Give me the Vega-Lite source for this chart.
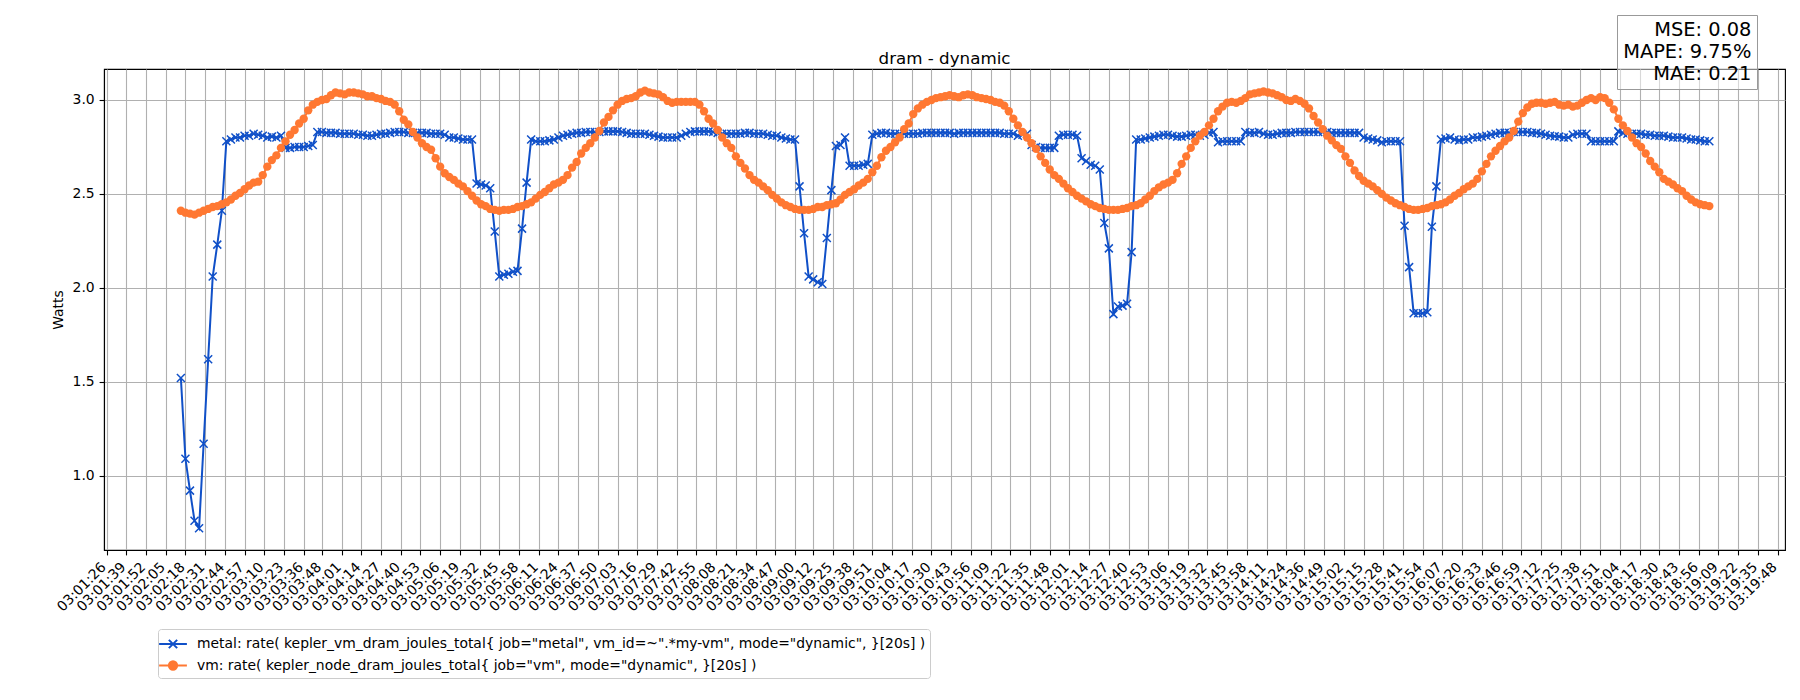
{
"$schema": "https://vega.github.io/schema/vega-lite/v6.json",
"width": 1681, "height": 481,
"autosize": "none",
"padding": {"left": 104, "top": 69, "right": 15, "bottom": 150},
"background": "white",
"title": {"text": "dram - dynamic", "font": "DejaVu Sans", "fontSize": 16.7, "fontWeight": "normal", "color": "black", "anchor": "middle", "offset": 5, "dy": 58},
"config": {"view": {"stroke": "black", "strokeWidth": 1.1}},
"data": {"values": [
{"t":135,"m":1.52,"v":2.41},{"t":138,"m":1.09,"v":2.40},{"t":141,"m":0.92,"v":2.395},{"t":144,"m":0.76,"v":2.39},{"t":147,"m":0.72,"v":2.40},
{"t":150,"m":1.17,"v":2.41},{"t":153,"m":1.62,"v":2.42},{"t":156,"m":2.06,"v":2.43},{"t":159,"m":2.23,"v":2.435},{"t":162,"m":2.41,"v":2.445},
{"t":165,"m":2.78,"v":2.455},{"t":168,"m":2.79,"v":2.47},{"t":171,"m":2.80,"v":2.49},{"t":174,"m":2.80,"v":2.505},{"t":177,"m":2.81,"v":2.525},
{"t":180,"m":2.81,"v":2.545},{"t":183,"m":2.82,"v":2.56},{"t":186,"m":2.815,"v":2.565},{"t":189,"m":2.81,"v":2.60},{"t":192,"m":2.80,"v":2.645},
{"t":195,"m":2.805,"v":2.68},{"t":198,"m":2.80,"v":2.705},{"t":201,"m":2.81,"v":2.745},{"t":204,"m":2.745,"v":2.78},{"t":207,"m":2.745,"v":2.815},
{"t":210,"m":2.75,"v":2.84},{"t":213,"m":2.75,"v":2.875},{"t":216,"m":2.75,"v":2.90},{"t":219,"m":2.755,"v":2.945},{"t":222,"m":2.76,"v":2.975},
{"t":225,"m":2.83,"v":2.99},{"t":228,"m":2.83,"v":3.00},{"t":231,"m":2.825,"v":3.005},{"t":234,"m":2.825,"v":3.025},{"t":237,"m":2.825,"v":3.04},
{"t":240,"m":2.82,"v":3.035},{"t":243,"m":2.82,"v":3.03},{"t":246,"m":2.82,"v":3.04},{"t":249,"m":2.82,"v":3.04},{"t":252,"m":2.815,"v":3.035},
{"t":255,"m":2.815,"v":3.03},{"t":258,"m":2.81,"v":3.02},{"t":261,"m":2.81,"v":3.02},{"t":264,"m":2.815,"v":3.01},{"t":267,"m":2.82,"v":3.005},
{"t":270,"m":2.82,"v":2.995},{"t":273,"m":2.825,"v":2.99},{"t":276,"m":2.83,"v":2.975},{"t":279,"m":2.83,"v":2.94},{"t":282,"m":2.83,"v":2.895},
{"t":285,"m":2.825,"v":2.87},{"t":288,"m":2.825,"v":2.83},{"t":291,"m":2.825,"v":2.80},{"t":294,"m":2.825,"v":2.77},{"t":297,"m":2.825,"v":2.75},
{"t":300,"m":2.82,"v":2.735},{"t":303,"m":2.82,"v":2.69},{"t":306,"m":2.82,"v":2.645},{"t":309,"m":2.815,"v":2.61},{"t":312,"m":2.80,"v":2.59},
{"t":315,"m":2.80,"v":2.575},{"t":318,"m":2.795,"v":2.555},{"t":321,"m":2.79,"v":2.54},{"t":324,"m":2.79,"v":2.515},{"t":327,"m":2.79,"v":2.49},
{"t":330,"m":2.555,"v":2.465},{"t":333,"m":2.55,"v":2.445},{"t":336,"m":2.545,"v":2.435},{"t":339,"m":2.53,"v":2.42},{"t":342,"m":2.30,"v":2.415},
{"t":345,"m":2.06,"v":2.41},{"t":348,"m":2.07,"v":2.415},{"t":351,"m":2.075,"v":2.415},{"t":354,"m":2.085,"v":2.42},{"t":357,"m":2.09,"v":2.43},
{"t":360,"m":2.315,"v":2.435},{"t":363,"m":2.56,"v":2.445},{"t":366,"m":2.79,"v":2.455},{"t":369,"m":2.78,"v":2.475},{"t":372,"m":2.78,"v":2.495},
{"t":375,"m":2.78,"v":2.51},{"t":378,"m":2.785,"v":2.53},{"t":381,"m":2.79,"v":2.55},{"t":384,"m":2.80,"v":2.56},{"t":387,"m":2.81,"v":2.575},
{"t":390,"m":2.815,"v":2.60},{"t":393,"m":2.82,"v":2.64},{"t":396,"m":2.825,"v":2.67},{"t":399,"m":2.825,"v":2.715},{"t":402,"m":2.83,"v":2.745},
{"t":405,"m":2.83,"v":2.77},{"t":408,"m":2.83,"v":2.80},{"t":411,"m":2.83,"v":2.835},{"t":414,"m":2.833,"v":2.88},{"t":417,"m":2.833,"v":2.91},
{"t":420,"m":2.833,"v":2.945},{"t":423,"m":2.833,"v":2.975},{"t":426,"m":2.83,"v":2.995},{"t":429,"m":2.825,"v":3.005},{"t":432,"m":2.82,"v":3.01},
{"t":435,"m":2.82,"v":3.02},{"t":438,"m":2.82,"v":3.04},{"t":441,"m":2.82,"v":3.05},{"t":444,"m":2.815,"v":3.04},{"t":447,"m":2.81,"v":3.035},
{"t":450,"m":2.805,"v":3.03},{"t":453,"m":2.80,"v":3.015},{"t":456,"m":2.80,"v":2.995},{"t":459,"m":2.80,"v":2.985},{"t":462,"m":2.80,"v":2.99},
{"t":465,"m":2.81,"v":2.99},{"t":468,"m":2.82,"v":2.99},{"t":471,"m":2.83,"v":2.99},{"t":474,"m":2.833,"v":2.99},{"t":477,"m":2.833,"v":2.975},
{"t":480,"m":2.833,"v":2.94},{"t":483,"m":2.833,"v":2.90},{"t":486,"m":2.83,"v":2.875},{"t":489,"m":2.825,"v":2.84},{"t":492,"m":2.82,"v":2.80},
{"t":495,"m":2.82,"v":2.77},{"t":498,"m":2.82,"v":2.745},{"t":501,"m":2.82,"v":2.70},{"t":504,"m":2.82,"v":2.665},{"t":507,"m":2.825,"v":2.635},
{"t":510,"m":2.825,"v":2.60},{"t":513,"m":2.82,"v":2.575},{"t":516,"m":2.82,"v":2.56},{"t":519,"m":2.82,"v":2.54},{"t":522,"m":2.815,"v":2.52},
{"t":525,"m":2.81,"v":2.495},{"t":528,"m":2.81,"v":2.475},{"t":531,"m":2.80,"v":2.455},{"t":534,"m":2.795,"v":2.44},{"t":537,"m":2.79,"v":2.43},
{"t":540,"m":2.79,"v":2.42},{"t":543,"m":2.54,"v":2.415},{"t":546,"m":2.29,"v":2.415},{"t":549,"m":2.06,"v":2.415},{"t":552,"m":2.045,"v":2.42},
{"t":555,"m":2.03,"v":2.43},{"t":558,"m":2.02,"v":2.43},{"t":561,"m":2.265,"v":2.44},{"t":564,"m":2.52,"v":2.445},{"t":567,"m":2.755,"v":2.45},
{"t":570,"m":2.76,"v":2.47},{"t":573,"m":2.80,"v":2.495},{"t":576,"m":2.65,"v":2.51},{"t":579,"m":2.65,"v":2.525},{"t":582,"m":2.65,"v":2.545},
{"t":585,"m":2.655,"v":2.56},{"t":588,"m":2.66,"v":2.58},{"t":591,"m":2.815,"v":2.615},{"t":594,"m":2.82,"v":2.65},{"t":597,"m":2.825,"v":2.695},
{"t":600,"m":2.825,"v":2.73},{"t":603,"m":2.82,"v":2.75},{"t":606,"m":2.82,"v":2.775},{"t":609,"m":2.82,"v":2.80},{"t":612,"m":2.82,"v":2.845},
{"t":615,"m":2.82,"v":2.875},{"t":618,"m":2.82,"v":2.925},{"t":621,"m":2.82,"v":2.955},{"t":624,"m":2.825,"v":2.975},{"t":627,"m":2.825,"v":2.99},
{"t":630,"m":2.825,"v":3.00},{"t":633,"m":2.825,"v":3.01},{"t":636,"m":2.825,"v":3.015},{"t":639,"m":2.825,"v":3.02},{"t":642,"m":2.825,"v":3.025},
{"t":645,"m":2.82,"v":3.02},{"t":648,"m":2.825,"v":3.015},{"t":651,"m":2.825,"v":3.025},{"t":654,"m":2.825,"v":3.03},{"t":657,"m":2.825,"v":3.025},
{"t":660,"m":2.825,"v":3.015},{"t":663,"m":2.825,"v":3.01},{"t":666,"m":2.825,"v":3.005},{"t":669,"m":2.825,"v":3.00},{"t":672,"m":2.825,"v":2.99},
{"t":675,"m":2.825,"v":2.985},{"t":678,"m":2.82,"v":2.97},{"t":681,"m":2.82,"v":2.94},{"t":684,"m":2.82,"v":2.90},{"t":687,"m":2.81,"v":2.865},
{"t":690,"m":2.815,"v":2.83},{"t":693,"m":2.82,"v":2.80},{"t":696,"m":2.76,"v":2.77},{"t":699,"m":2.75,"v":2.74},{"t":702,"m":2.745,"v":2.70},
{"t":705,"m":2.745,"v":2.665},{"t":708,"m":2.745,"v":2.63},{"t":711,"m":2.745,"v":2.60},{"t":714,"m":2.81,"v":2.58},{"t":717,"m":2.815,"v":2.555},
{"t":720,"m":2.815,"v":2.53},{"t":723,"m":2.815,"v":2.51},{"t":726,"m":2.81,"v":2.49},{"t":729,"m":2.69,"v":2.475},{"t":732,"m":2.675,"v":2.46},
{"t":735,"m":2.655,"v":2.445},{"t":738,"m":2.65,"v":2.435},{"t":741,"m":2.63,"v":2.425},{"t":744,"m":2.345,"v":2.42},{"t":747,"m":2.21,"v":2.415},
{"t":750,"m":1.86,"v":2.415},{"t":753,"m":1.90,"v":2.415},{"t":756,"m":1.905,"v":2.42},{"t":759,"m":1.915,"v":2.425},{"t":762,"m":2.19,"v":2.435},
{"t":765,"m":2.79,"v":2.44},{"t":768,"m":2.79,"v":2.45},{"t":771,"m":2.795,"v":2.47},{"t":774,"m":2.80,"v":2.49},{"t":777,"m":2.805,"v":2.515},
{"t":780,"m":2.81,"v":2.535},{"t":783,"m":2.815,"v":2.55},{"t":786,"m":2.815,"v":2.56},{"t":789,"m":2.81,"v":2.575},{"t":792,"m":2.805,"v":2.61},
{"t":795,"m":2.805,"v":2.66},{"t":798,"m":2.81,"v":2.70},{"t":801,"m":2.815,"v":2.745},{"t":804,"m":2.815,"v":2.78},{"t":807,"m":2.81,"v":2.81},
{"t":810,"m":2.815,"v":2.83},{"t":813,"m":2.825,"v":2.865},{"t":816,"m":2.83,"v":2.90},{"t":819,"m":2.775,"v":2.94},{"t":822,"m":2.78,"v":2.965},
{"t":825,"m":2.78,"v":2.985},{"t":828,"m":2.78,"v":2.99},{"t":831,"m":2.78,"v":2.985},{"t":834,"m":2.78,"v":2.995},{"t":837,"m":2.83,"v":3.01},
{"t":840,"m":2.825,"v":3.03},{"t":843,"m":2.825,"v":3.035},{"t":846,"m":2.83,"v":3.04},{"t":849,"m":2.82,"v":3.045},{"t":852,"m":2.815,"v":3.04},
{"t":855,"m":2.815,"v":3.035},{"t":858,"m":2.82,"v":3.025},{"t":861,"m":2.825,"v":3.015},{"t":864,"m":2.825,"v":3.00},{"t":867,"m":2.825,"v":2.995},
{"t":870,"m":2.83,"v":3.005},{"t":873,"m":2.83,"v":2.995},{"t":876,"m":2.83,"v":2.98},{"t":879,"m":2.83,"v":2.955},{"t":882,"m":2.83,"v":2.915},
{"t":885,"m":2.83,"v":2.88},{"t":888,"m":2.83,"v":2.845},{"t":891,"m":2.83,"v":2.81},{"t":894,"m":2.825,"v":2.785},{"t":897,"m":2.825,"v":2.76},
{"t":900,"m":2.825,"v":2.74},{"t":903,"m":2.825,"v":2.70},{"t":906,"m":2.825,"v":2.665},{"t":909,"m":2.825,"v":2.625},{"t":912,"m":2.825,"v":2.595},
{"t":915,"m":2.80,"v":2.57},{"t":918,"m":2.795,"v":2.555},{"t":921,"m":2.79,"v":2.54},{"t":924,"m":2.785,"v":2.52},{"t":927,"m":2.775,"v":2.50},
{"t":930,"m":2.78,"v":2.48},{"t":933,"m":2.78,"v":2.465},{"t":936,"m":2.78,"v":2.45},{"t":939,"m":2.78,"v":2.44},{"t":942,"m":2.33,"v":2.43},
{"t":945,"m":2.11,"v":2.42},{"t":948,"m":1.865,"v":2.415},{"t":951,"m":1.865,"v":2.415},{"t":954,"m":1.865,"v":2.42},{"t":957,"m":1.87,"v":2.425},
{"t":960,"m":2.325,"v":2.435},{"t":963,"m":2.54,"v":2.44},{"t":966,"m":2.79,"v":2.445},{"t":969,"m":2.795,"v":2.455},{"t":972,"m":2.80,"v":2.47},
{"t":975,"m":2.79,"v":2.49},{"t":978,"m":2.785,"v":2.505},{"t":981,"m":2.79,"v":2.525},{"t":984,"m":2.79,"v":2.54},{"t":987,"m":2.80,"v":2.555},
{"t":990,"m":2.80,"v":2.58},{"t":993,"m":2.805,"v":2.62},{"t":996,"m":2.81,"v":2.66},{"t":999,"m":2.815,"v":2.70},{"t":1002,"m":2.82,"v":2.73},
{"t":1005,"m":2.825,"v":2.755},{"t":1008,"m":2.825,"v":2.78},{"t":1011,"m":2.825,"v":2.80},{"t":1014,"m":2.83,"v":2.835},{"t":1017,"m":2.83,"v":2.885},
{"t":1020,"m":2.83,"v":2.93},{"t":1023,"m":2.83,"v":2.96},{"t":1026,"m":2.825,"v":2.98},{"t":1029,"m":2.825,"v":2.985},{"t":1032,"m":2.82,"v":2.985},
{"t":1035,"m":2.815,"v":2.98},{"t":1038,"m":2.81,"v":2.985},{"t":1041,"m":2.807,"v":2.99},{"t":1044,"m":2.805,"v":2.975},{"t":1047,"m":2.80,"v":2.97},
{"t":1050,"m":2.80,"v":2.975},{"t":1053,"m":2.815,"v":2.965},{"t":1056,"m":2.82,"v":2.97},{"t":1059,"m":2.82,"v":2.985},{"t":1062,"m":2.82,"v":3.00},
{"t":1065,"m":2.78,"v":3.01},{"t":1068,"m":2.78,"v":3.00},{"t":1071,"m":2.78,"v":3.015},{"t":1074,"m":2.78,"v":3.01},{"t":1077,"m":2.78,"v":2.985},
{"t":1080,"m":2.78,"v":2.95},{"t":1083,"m":2.833,"v":2.90},{"t":1086,"m":2.825,"v":2.865},{"t":1089,"m":2.82,"v":2.835},{"t":1092,"m":2.82,"v":2.80},
{"t":1095,"m":2.82,"v":2.77},{"t":1098,"m":2.82,"v":2.75},{"t":1101,"m":2.815,"v":2.715},{"t":1104,"m":2.815,"v":2.675},{"t":1107,"m":2.81,"v":2.645},
{"t":1110,"m":2.81,"v":2.615},{"t":1113,"m":2.81,"v":2.58},{"t":1116,"m":2.805,"v":2.565},{"t":1119,"m":2.80,"v":2.55},{"t":1122,"m":2.80,"v":2.53},
{"t":1125,"m":2.80,"v":2.515},{"t":1128,"m":2.795,"v":2.49},{"t":1131,"m":2.79,"v":2.47},{"t":1134,"m":2.79,"v":2.455},{"t":1137,"m":2.785,"v":2.445},
{"t":1140,"m":2.78,"v":2.44},{"t":1143,"m":2.78,"v":2.435}
]},
"layer": [
{
"transform": [{"fold": ["m", "v"], "as": ["s", "w"]}],
"encoding": {
"x": {"field": "t", "type": "quantitative",
 "scale": {"domain": [84.3, 1192.9], "nice": false, "zero": false},
 "axis": {"title": null, "grid": true,
  "values": [86,99,112,125,138,151,164,177,190,203,216,228,241,254,267,280,293,306,319,332,345,358,371,384,397,410,423,436,449,462,475,488,501,514,527,540,552,565,578,591,604,617,630,643,656,669,682,695,708,721,734,747,760,773,786,799,812,825,838,851,864,876,889,902,915,928,941,954,967,980,993,1006,1019,1032,1045,1058,1071,1084,1097,1110,1123,1136,1149,1162,1175,1188],
  "labelExpr": "'03:' + (floor(datum.value / 60) < 10 ? '0' : '') + floor(datum.value / 60) + ':' + (datum.value % 60 < 10 ? '0' : '') + (datum.value % 60)",
  "labelAngle": -45, "labelAlign": "right", "labelBaseline": "top", "labelOffset": -8, "labelPadding": 4.9,
  "tickSize": 4.9, "tickColor": "black", "tickWidth": 1.1, "domainColor": "black", "domainWidth": 1.1,
  "gridColor": "#b0b0b0", "gridWidth": 1.1, "gridOpacity": 1,
  "labelFont": "DejaVu Sans", "labelFontSize": 13.9, "labelColor": "black",
  "labelOverlap": false, "labelFlush": false, "labelBound": false}},
"y": {"field": "w", "type": "quantitative",
 "scale": {"domain": [0.604, 3.165], "nice": false, "zero": false},
 "axis": {"title": "Watts", "grid": true, "values": [1, 1.5, 2, 2.5, 3], "format": ".1f",
  "titleFont": "DejaVu Sans", "titleFontSize": 13.9, "titleFontWeight": "normal", "titleColor": "black",
  "titleX": -46, "titleY": 240.5, "titleAngle": -90, "titleAlign": "center", "titleBaseline": "middle",
  "labelPadding": 4.9, "tickSize": 4.9, "tickColor": "black", "tickWidth": 1.1, "domainColor": "black", "domainWidth": 1.1,
  "gridColor": "#b0b0b0", "gridWidth": 1.1, "gridOpacity": 1,
  "labelFont": "DejaVu Sans", "labelFontSize": 13.9, "labelColor": "black"}},
"color": {"field": "s", "type": "nominal",
 "scale": {"domain": ["m", "v"], "range": ["#1050c8", "#ff7832"]},
 "legend": {"title": null, "orient": "none", "legendX": 54, "legendY": 560, "direction": "vertical",
  "labelExpr": "datum.value == 'm' ? 'metal: rate( kepler_vm_dram_joules_total{ job=\"metal\", vm_id=~\".*my-vm\", mode=\"dynamic\", }[20s] )' : 'vm: rate( kepler_node_dram_joules_total{ job=\"vm\", mode=\"dynamic\", }[20s] )'",
  "labelFont": "DejaVu Sans", "labelFontSize": 13.9, "labelColor": "black", "labelLimit": 2000,
  "symbolSize": 400, "symbolStrokeWidth": 2, "labelOffset": 13, "padding": 4, "rowPadding": 1.5,
  "strokeColor": "#cccccc", "fillColor": "white", "cornerRadius": 3,
  "encode": {"symbols": {"update": {
   "shape": {"signal": "datum.value == 'm' ? 'M-1.39,0H1.39M-0.415,-0.415L0.415,0.415M-0.415,0.415L0.415,-0.415' : 'M-1.39,0H1.39M0.415,0A0.415,0.415,0,1,1,-0.415,0A0.415,0.415,0,1,1,0.415,0'"},
   "fill": {"signal": "datum.value == 'm' ? 'transparent' : '#ff7832'"},
   "stroke": {"signal": "datum.value == 'm' ? '#1050c8' : '#ff7832'"},
   "strokeWidth": {"value": 2},
   "opacity": {"value": 1}
  }}}}}
},
"layer": [
 {"transform": [{"filter": "datum.s == 'm'"}], "mark": {"type": "line", "strokeWidth": 2}},
 {"transform": [{"filter": "datum.s == 'm'"}], "mark": {"type": "point", "shape": "M-1,-1L1,1M-1,1L1,-1", "filled": false, "size": 64, "strokeWidth": 1.5, "opacity": 1}},
 {"transform": [{"filter": "datum.s == 'v'"}], "mark": {"type": "line", "strokeWidth": 2}},
 {"transform": [{"filter": "datum.s == 'v'"}], "mark": {"type": "circle", "size": 70, "opacity": 1}}
]
},
{
"data": {"values": [{"stat": "MSE: 0.08"}, {"stat": "MAPE: 9.75%"}, {"stat": "MAE: 0.21"}]},
"mark": {"type": "point", "opacity": 0},
"encoding": {
 "shape": {"field": "stat", "type": "nominal",
  "scale": {"domain": ["MSE: 0.08", "MAPE: 9.75%", "MAE: 0.21"]},
  "legend": {"title": null, "orient": "none", "legendX": 1513, "legendY": -54, "direction": "vertical",
   "labelAlign": "right", "labelFont": "DejaVu Sans", "labelFontSize": 19.4, "labelColor": "black", "labelLimit": 2000,
   "symbolSize": 0, "symbolOpacity": 0, "labelOffset": 110, "padding": 5, "rowPadding": 1,
   "strokeColor": "#999999", "fillColor": "rgba(255,255,255,0.5)", "cornerRadius": 0}}
}
}
]
}
